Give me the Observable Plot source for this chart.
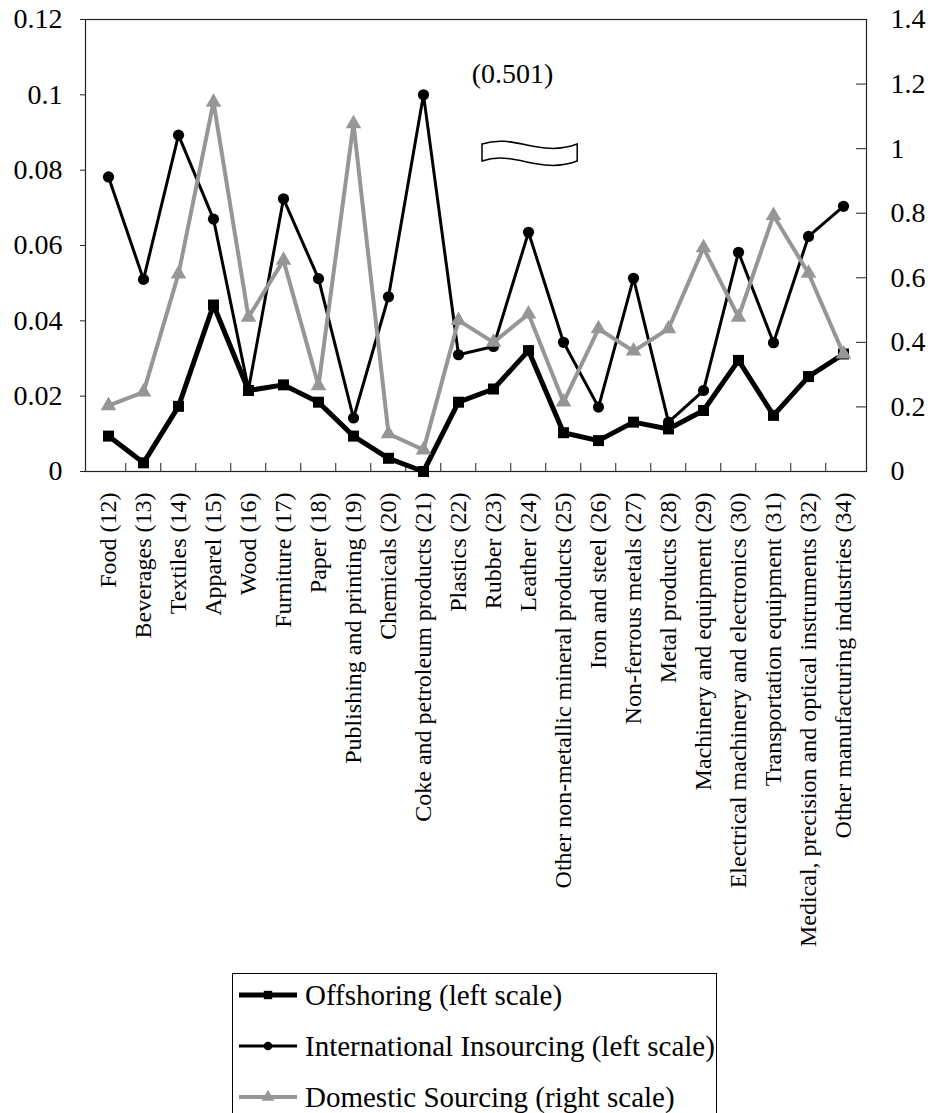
<!DOCTYPE html>
<html><head><meta charset="utf-8">
<script src="https://cdn.jsdelivr.net/npm/d3@7"></script>
<script src="https://cdn.jsdelivr.net/npm/@observablehq/plot@0.6"></script>
<style>
body{margin:0;background:#fff;font-family:"Liberation Serif","Times New Roman",serif;color:#000;}
#chart{position:absolute;left:0;top:0}
#legend{position:absolute;left:232px;top:973px;width:485px;height:200px;border:1px solid #000;box-sizing:border-box;background:#fff}
.row{position:absolute;left:5px;height:50px;font-size:29px;white-space:nowrap;display:flex;align-items:center}
.row svg{margin-right:7px}
</style></head><body>
<div id="chart"></div>
<div id="legend"></div>
<script>
const categories = [
  "Food (12)", "Beverages (13)", "Textiles (14)", "Apparel (15)", "Wood (16)",
  "Furniture (17)", "Paper (18)", "Publishing and printing (19)", "Chemicals (20)",
  "Coke and petroleum products (21)", "Plastics (22)", "Rubber (23)", "Leather (24)",
  "Other non-metallic mineral products (25)", "Iron and steel (26)", "Non-ferrous metals (27)",
  "Metal products (28)", "Machinery and equipment (29)", "Electrical machinery and electronics (30)",
  "Transportation equipment (31)", "Medical, precision and optical instruments (32)",
  "Other manufacturing industries (34)"
];
// left scale
const offshoring = [0.0094, 0.0023, 0.0173, 0.0442, 0.0215, 0.0230, 0.0184, 0.0094, 0.0035, 0.0000, 0.0184,
  0.0219, 0.0321, 0.0103, 0.0082, 0.0131, 0.0113, 0.0162, 0.0295, 0.0149, 0.0252, 0.0312];
// left scale
const insourcing = [0.0782, 0.0510, 0.0893, 0.0670, 0.0218, 0.0724, 0.0512, 0.0142, 0.0464, 0.1000, 0.0310,
  0.0332, 0.0635, 0.0343, 0.0171, 0.0513, 0.0131, 0.0215, 0.0582, 0.0342, 0.0624, 0.0704];
// right scale
const domestic = [0.204, 0.246, 0.612, 1.144, 0.478, 0.654, 0.266, 1.077, 0.117, 0.067, 0.468,
  0.400, 0.488, 0.215, 0.442, 0.373, 0.442, 0.693, 0.478, 0.793, 0.614, 0.364];

const leftTicks = [0, 0.02, 0.04, 0.06, 0.08, 0.1, 0.12];
const rightTicks = [0, 0.2, 0.4, 0.6, 0.8, 1, 1.2, 1.4];
const leftMax = 0.12, rightMax = 1.4;
const seriesNames = ["Offshoring (left scale)", "International Insourcing (left scale)", "Domestic Sourcing (right scale)"];
const annotationLabel = "(0.501)";
const annotationY = 0.1055;       // left-scale position of the note
const bannerY = [0.0868, 0.0823]; // left-scale top/bottom of break symbol

const gray = "#969696";
const toLeft = v => v * leftMax / rightMax;
const rows = categories.map((c, i) => ({cat: c, off: offshoring[i], ins: insourcing[i], dom: toLeft(domestic[i])}));

const W = 931, H = 965, ML = 85, MR = 65, MT = 19, MB = 494;
const FW = W - ML - MR, FH = H - MT - MB;
const step = FW / categories.length;

function banner(index, scales) {
  const x = scales.x, y = scales.y;
  const x0 = x(categories[11]) - 0.31 * step;
  const x1 = x(categories[13]) + 0.40 * step;
  const yT = y(bannerY[0]), yB = y(bannerY[1]);
  const w = x1 - x0;
  const d = `M${x0},${yT} C${x0 + w * 0.35},${yT - 11} ${x0 + w * 0.6},${yT + 14} ${x1},${yT} ` +
            `L${x1},${yB} C${x0 + w * 0.6},${yB + 14} ${x0 + w * 0.35},${yB - 11} ${x0},${yB} Z`;
  return d3.create("svg:path").attr("d", d).attr("fill", "white").attr("stroke", "black").attr("stroke-width", 1.5).node();
}

const plot = Plot.plot({
  width: W, height: H,
  marginLeft: ML, marginRight: MR, marginTop: MT, marginBottom: MB,
  style: {fontFamily: '"Liberation Serif","Times New Roman",serif', fontSize: "28px", color: "black", background: "white"},
  x: {type: "point", domain: categories, padding: 0.5, axis: null},
  y: {domain: [0, leftMax], axis: null},
  marks: [
    Plot.frame({stroke: "#222", strokeWidth: 1.2}),
    Plot.axisY({anchor: "left", ticks: leftTicks, tickSize: 5, tickPadding: 18, fontSize: 28, stroke: "#222", label: null,
      tickFormat: d => String(+d.toFixed(2))}),
    Plot.axisY({anchor: "right", ticks: rightTicks.map(toLeft), tickSize: 0, tickPadding: 24, fontSize: 28, label: null,
      tickFormat: d => String(+(d * rightMax / leftMax).toFixed(2))}),
    Plot.tickY(rightTicks.map(toLeft), {y: d => d, insetLeft: FW - 10, stroke: "#222"}),
    Plot.tickX(categories.slice(1), {x: d => d, dx: -step / 2, insetTop: FH - 8, stroke: "#222"}),
    Plot.axisX({anchor: "bottom", tickRotate: -90, tickSize: 0, tickPadding: 21, fontSize: 24, label: null}),
    Plot.text([annotationLabel], {x: () => categories[12], y: () => annotationY, text: d => d, dx: -16, fontSize: 28, fill: "black"}),
    banner,
    Plot.line(rows, {x: "cat", y: "off", stroke: "black", strokeWidth: 5, strokeLinejoin: "miter"}),
    Plot.dot(rows, {x: "cat", y: "off", symbol: "square", r: 6.2, fill: "black"}),
    Plot.line(rows, {x: "cat", y: "ins", stroke: "black", strokeWidth: 3, strokeLinejoin: "miter"}),
    Plot.dot(rows, {x: "cat", y: "ins", symbol: "circle", r: 5.6, fill: "black"}),
    Plot.line(rows, {x: "cat", y: "dom", stroke: gray, strokeWidth: 4, strokeLinejoin: "miter"}),
    Plot.dot(rows, {x: "cat", y: "dom", symbol: "triangle", r: 5.8, fill: gray})
  ]
});
document.getElementById("chart").appendChild(plot);

// legend
const legend = d3.select("#legend");
const styles = [
  {stroke: "black", sw: 5, sym: "square", size: 70, color: "black"},
  {stroke: "black", sw: 3, sym: "circle", size: 60, color: "black"},
  {stroke: gray, sw: 4, sym: "triangle", size: 70, color: gray}
];
seriesNames.forEach((name, i) => {
  const st = styles[i];
  const row = legend.append("div").attr("class", "row").style("top", (21 + 51 * i - 25) + "px");
  const svg = row.append("svg").attr("width", 60).attr("height", 20);
  svg.append("line").attr("x1", 1).attr("x2", 59).attr("y1", 10).attr("y2", 10)
    .attr("stroke", st.stroke).attr("stroke-width", st.sw);
  const symType = {square: d3.symbolSquare, circle: d3.symbolCircle, triangle: d3.symbolTriangle}[st.sym];
  svg.append("path").attr("transform", "translate(30,10)").attr("d", d3.symbol(symType, st.size)()).attr("fill", st.color);
  row.append("span").text(name);
});
</script>
</body></html>
